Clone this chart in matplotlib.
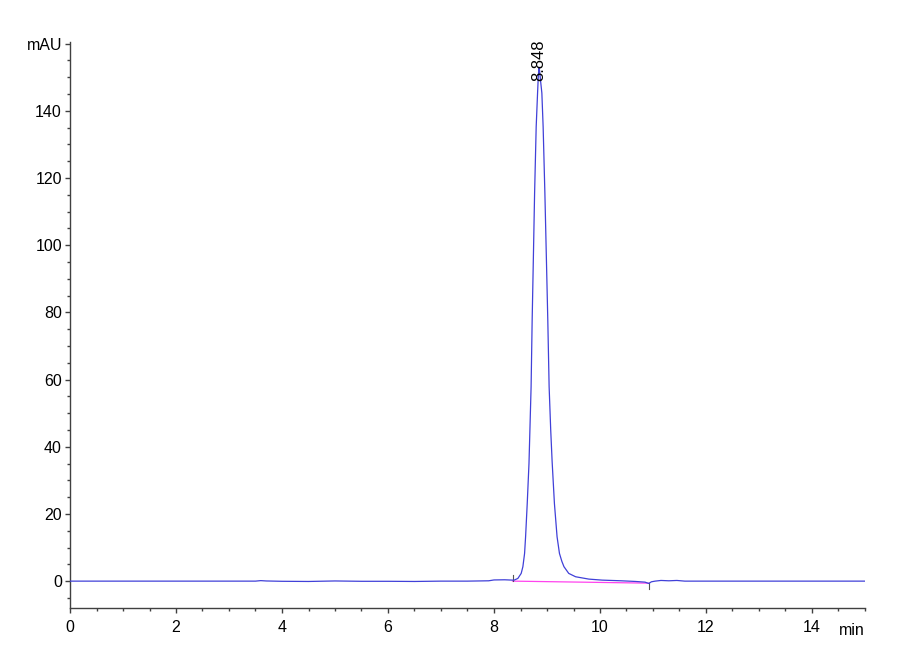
import matplotlib
matplotlib.use("Agg")
import matplotlib.pyplot as plt
from matplotlib.ticker import MultipleLocator, FixedLocator

plt.rcParams['font.family'] = ['Liberation Sans', 'DejaVu Sans']

# Chromatogram trace (time in min, signal in mAU)
time_min = [0.0, 3.5, 3.6, 3.7, 4.0, 4.5, 5.0, 5.5, 6.0, 6.5, 7.0, 7.5, 7.9,
            8.0, 8.2, 8.35, 8.38, 8.45, 8.513, 8.545, 8.577, 8.596, 8.627,
            8.66, 8.70, 8.72, 8.745, 8.766, 8.796, 8.822, 8.835, 8.848, 8.86,
            8.875, 8.903, 8.927, 8.96, 8.99, 9.015, 9.04, 9.07, 9.097, 9.14,
            9.19, 9.235, 9.28, 9.32, 9.41, 9.54, 9.79, 10.04, 10.4, 10.67,
            10.85, 10.92, 10.97, 11.04, 11.15, 11.3, 11.45, 11.6, 15.0]
signal_mau = [0.0, 0.0, 0.15, 0.05, -0.05, -0.1, 0.05, -0.05, -0.05, -0.1,
              0.0, 0.0, 0.1, 0.35, 0.4, 0.3, 0.3, 0.8, 2.3, 4.3, 8.25, 13.2,
              23.1, 35.0, 57.9, 77.7, 98.0, 115.5, 135.3, 145.3, 150.0, 153.0,
              152.0, 149.5, 145.3, 135.3, 115.5, 95.0, 77.7, 57.9, 45.0, 35.5,
              23.1, 13.2, 8.25, 5.9, 4.3, 2.3, 1.3, 0.6, 0.3, 0.1, -0.1, -0.3,
              -0.7, -0.2, 0.0, 0.2, 0.1, 0.2, 0.0, 0.0]

# Integration baseline (start/end)
base_t = [8.35, 10.92]
base_y = [0.0, -0.6]

peak_rt = 8.848
peak_label_y = 149.0
peak_label = "8.848"

x_major = [0, 2, 4, 6, 8, 10, 12, 14]
y_major = [0, 20, 40, 60, 80, 100, 120, 140, 160]
y_labels = ["0", "20", "40", "60", "80", "100", "120", "140", "mAU"]

fig = plt.figure(figsize=(9, 6.6), dpi=100)
ax = fig.add_axes([70/900, 1-608/660, 795/900, (608-42)/660])

ax.plot(time_min, signal_mau, color='#4040d8', lw=0.9, zorder=3)
ax.plot(base_t, base_y, color='#ff44ee', lw=0.9, zorder=2)
# start / end markers
ax.plot([base_t[0], base_t[0]], [base_y[0], base_y[0] + 1.8], color='#555555', lw=0.8)
ax.plot([base_t[1], base_t[1]], [base_y[1], base_y[1] - 1.8], color='#555555', lw=0.8)

ax.text(peak_rt, peak_label_y, peak_label, rotation=90, ha='center', va='bottom',
        fontsize=12, color='black', zorder=4)

ax.set_xlim(0, 15)
ax.set_ylim(-8, 160.5)
ax.xaxis.set_major_locator(FixedLocator(x_major))
ax.xaxis.set_minor_locator(MultipleLocator(0.5))
ax.yaxis.set_major_locator(FixedLocator(y_major))
ax.set_yticklabels(y_labels)
ax.yaxis.set_minor_locator(MultipleLocator(5))

for s in ['top', 'right']:
    ax.spines[s].set_visible(False)
for s in ['left', 'bottom']:
    ax.spines[s].set_color('#404040')
    ax.spines[s].set_linewidth(1.0)

ax.tick_params(axis='both', which='major', direction='out', length=3.8, width=1,
               color='#404040', labelsize=11.5)
ax.tick_params(axis='both', which='minor', direction='out', length=2.5, width=1,
               color='#404040')
ax.tick_params(axis='y', which='major', pad=2)
ax.tick_params(axis='x', which='major', pad=5)

ax.text(1.0, -0.04, "min", transform=ax.transAxes, ha='right', va='center', fontsize=11.5)

fig.savefig("out.png", dpi=100)
